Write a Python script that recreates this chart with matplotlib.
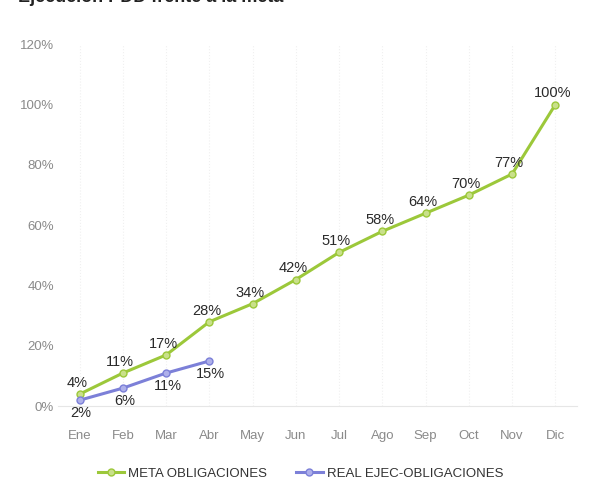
import numpy as np
import matplotlib.pyplot as plt

plt.rcParams['font.family'] = ['Liberation Sans', 'DejaVu Sans']

meses = ["Ene", "Feb", "Mar", "Abr", "May", "Jun", "Jul", "Ago", "Sep", "Oct", "Nov", "Dic"]
meta = [4, 11, 17, 28, 34, 42, 51, 58, 64, 70, 77, 100]
real = [2, 6, 11, 15]

green = "#9cc83a"
blue = "#7c80d8"

fig = plt.figure(figsize=(5.89, 5.04), dpi=100)
ax = fig.add_axes([0.0985, 0.194, 0.881, 0.718])

x = np.arange(len(meses))
ax.plot(x, meta, color=green, lw=2.2, marker="o", ms=5,
        mfc="#c9e08a", mec=green, label="META OBLIGACIONES", zorder=3)
ax.plot(x[:len(real)], real, color=blue, lw=2.2, marker="o", ms=5,
        mfc="#aeb0ea", mec=blue, label="REAL EJEC-OBLIGACIONES", zorder=3)

# etiquetas de datos
for i, v in enumerate(meta):
    ax.annotate(f"{v}%", (i, v), xytext=(-2, 3), textcoords="offset points",
                ha="center", va="bottom", fontsize=10.5, color="#2a2a2a")
for i, v in enumerate(real):
    ax.annotate(f"{v}%", (i, v), xytext=(1, -4), textcoords="offset points",
                ha="center", va="top", fontsize=10.5, color="#2a2a2a")

ax.set_xlim(-0.5, len(meses) - 0.5)
ax.set_ylim(0, 120)
ax.set_yticks(range(0, 121, 20))
ax.set_yticklabels([f"{t}%" for t in range(0, 121, 20)])
ax.set_xticks(x)
ax.set_xticklabels(meses)
ax.tick_params(colors="#8a8a8a", labelsize=9.5, length=0)
ax.tick_params(axis="x", pad=17)
ax.tick_params(axis="y", pad=3)

for s in ["top", "right", "left"]:
    ax.spines[s].set_visible(False)
ax.spines["bottom"].set_color("#e6e6e6")
ax.grid(axis="x", color="#f0f0f0", lw=0.8, ls=":")

fig.legend(loc="center", bbox_to_anchor=(0.51, 0.06), ncol=2, frameon=False,
           fontsize=9.5, handlelength=2.0, handletextpad=0.3, columnspacing=2.2,
           labelcolor="#333333")

# titulo recortado en la parte superior, como en la imagen original
fig.text(0.03, 1.005, "Ejecución PDD frente a la meta", fontsize=13,
         fontweight="bold", va="center", ha="left", color="#222222")

fig.savefig("out.png", dpi=100)
